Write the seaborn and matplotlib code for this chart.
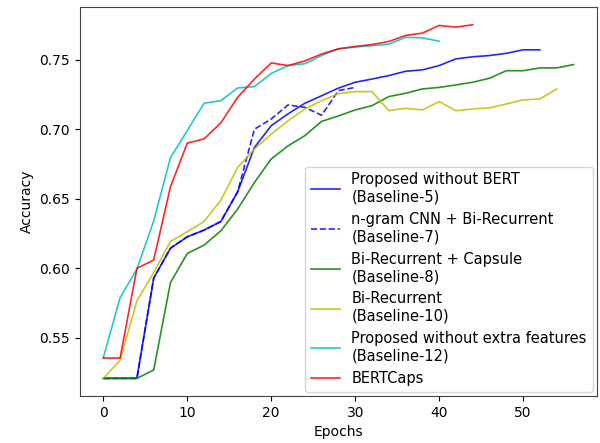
import matplotlib
matplotlib.use("Agg")
import matplotlib.pyplot as plt
import seaborn as sns
import pandas as pd

# accuracy per epoch (sampled every 2 epochs)
base5 = [0.521, 0.521, 0.521, 0.593, 0.6145, 0.6227, 0.6275, 0.6337, 0.655,
         0.6869, 0.7025, 0.711, 0.7186, 0.724, 0.7295, 0.7337, 0.736, 0.7385,
         0.7416, 0.7426, 0.7457, 0.7505, 0.752, 0.7529, 0.7545, 0.757, 0.757]
base7 = [0.521, 0.521, 0.521, 0.593, 0.6145, 0.6227, 0.6275, 0.6337, 0.655,
         0.700, 0.7073, 0.7174, 0.7157, 0.710, 0.7277, 0.730]
base8 = [0.521, 0.521, 0.521, 0.527, 0.5898, 0.6107, 0.6167, 0.627, 0.6426,
         0.6617, 0.6786, 0.688, 0.6953, 0.7056, 0.7095, 0.7138, 0.7169, 0.7234,
         0.7258, 0.7289, 0.730, 0.7318, 0.7337, 0.7366, 0.742, 0.742, 0.744,
         0.744, 0.7464]
base10 = [0.521, 0.534, 0.5766, 0.597, 0.6193, 0.6263, 0.6337, 0.649, 0.6725,
          0.6857, 0.6965, 0.706, 0.7145, 0.7205, 0.7255, 0.727, 0.727, 0.7133,
          0.715, 0.7138, 0.7198, 0.7133, 0.7145, 0.7153, 0.7181, 0.721, 0.7217,
          0.7289]
base12 = [0.5358, 0.579, 0.5994, 0.634, 0.6795, 0.699, 0.7186, 0.7205, 0.7296,
          0.7306, 0.740, 0.7457, 0.747, 0.7529, 0.7577, 0.759, 0.760, 0.761,
          0.766, 0.7656, 0.7632]
bertcaps = [0.5356, 0.5356, 0.600, 0.606, 0.6586, 0.690, 0.693, 0.7045, 0.7229,
            0.736, 0.7476, 0.7457, 0.749, 0.754, 0.7577, 0.7594, 0.7608, 0.763,
            0.7673, 0.769, 0.7745, 0.7733, 0.775]

series = [
    ("Proposed without BERT\n(Baseline-5)", base5, "b", "-"),
    ("n-gram CNN + Bi-Recurrent\n(Baseline-7)", base7, "b", "--"),
    ("Bi-Recurrent + Capsule\n(Baseline-8)", base8, "g", "-"),
    ("Bi-Recurrent\n(Baseline-10)", base10, "y", "-"),
    ("Proposed without extra features\n(Baseline-12)", base12, "c", "-"),
    ("BERTCaps", bertcaps, "r", "-"),
]

fig, ax = plt.subplots(figsize=(6, 4.43), dpi=100)
for name, acc, col, ls in series:
    df = pd.DataFrame({"Epochs": [2 * i for i in range(len(acc))], "Accuracy": acc})
    sns.lineplot(data=df, x="Epochs", y="Accuracy", color=col, linestyle=ls,
                 label=name, ax=ax, linewidth=1.2, alpha=0.85)

ax.legend(loc="lower right", fontsize=10.5, borderaxespad=0.3)
for s in ax.spines.values():
    s.set_color("#444444")
ax.set_xlabel("Epochs")
ax.set_ylabel("Accuracy")
fig.subplots_adjust(left=0.133, right=0.995, top=0.984, bottom=0.106)
fig.savefig("out.png", dpi=100)
